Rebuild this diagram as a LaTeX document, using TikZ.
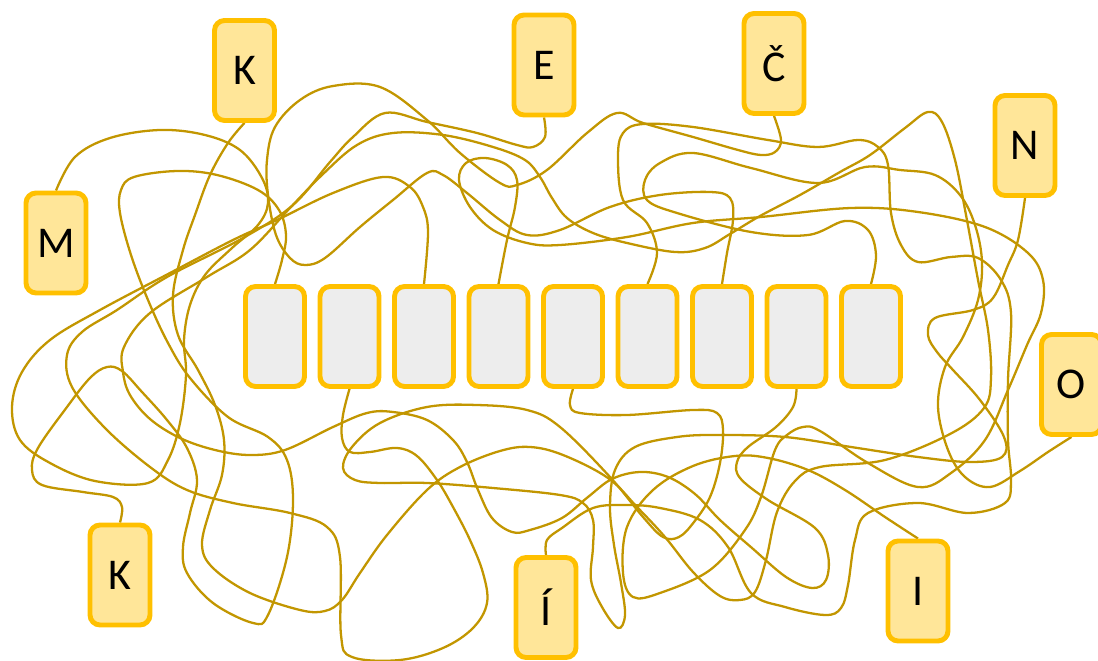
\documentclass[tikz,border=0pt]{standalone}
\usepackage{fontspec}
\setmainfont{Carlito}
\pgfdeclarelayer{background}
\pgfsetlayers{background,main}
\definecolor{boxline}{HTML}{FFC000}
\definecolor{boxfill}{HTML}{FFE699}
\definecolor{slotfill}{HTML}{EDEDED}
\definecolor{wirecol}{HTML}{C29600}

\begin{document}
\begin{tikzpicture}[x=0.02cm, y=-0.02cm,
  letter/.style={draw=boxline, fill=boxfill, line width=2.8pt, rounded corners=0.2cm,
    minimum width=1.2cm, minimum height=2cm, inner sep=0pt, font=\fontsize{25}{28}\selectfont},
  slot/.style={draw=boxline, fill=slotfill, line width=2.8pt, rounded corners=0.2cm,
    minimum width=1.18cm, minimum height=2cm, inner sep=0pt},
  wire/.style={draw=wirecol, line width=1.3pt}]
\useasboundingbox (0,0) rectangle (1098,661);
\foreach \i in {1,...,9} \node[slot] (b\i) at ({275+74.5*(\i-1)},336.5) {};
\node[letter] (Kt) at (244.5,70.5) {K};
\node[letter] (E) at (544,65) {E};
\node[letter] (C) at (774,63.5) {Č};
\node[letter] (N) at (1025,145.5) {N};
\node[letter] (M) at (56,243) {M};
\node[letter] (O) at (1071.5,384.5) {O};
\node[letter] (Kb) at (120,575) {K};
\node[letter] (Ia) at (546,607.5) {Í};
\node[letter] (I) at (918,591) {I};
\begin{pgfonlayer}{background}
% K (top)
\draw[wire] plot[smooth, tension=0.6] coordinates {(Kt.south) (228,143) (210,175) (195,215) (183,250) (173,295) (178,335) (198,370) (215,405) (224,440) (222,475) (210,510) (202,545) (213,568) (250,593) (300,610) (325,611) (342,600) (360,573) (387,535) (427,490) (460,467) (500,451) (530,447) (563,455) (608,478) (637,507) (665,537) (693,572) (720,596) (740,600) (755,592) (766,560) (777,512) (795,481) (820,467) (885,460) (950,434) (984,408) (991,378) (988,330) (978,280) (966,215) (955,160) (942,122) (928,112) (905,128) (870,155) (840,172) (800,195) (760,216) (730,234) (705,248) (675,252) (627,243) (593,233) (567,218) (552,198) (540,177) (525,160) (493,147) (443,135) (393,133) (357,145) (322,175) (290,208) (250,250) (207,277) (150,313) (124,347) (123,372) (130,395) (150,419) (180,438) (215,450) (250,455) (285,450) (333,427) (367,413) (393,412) (427,420) (453,440) (467,462) (478,490) (492,518) (512,532) (530,530) (562,518) (588,497) (612,479) (640,472) (668,477) (695,494) (720,520) (752,548) (786,577) (812,588) (826,580) (828,555) (815,528) (768,500) (740,478) (737,462) (748,447) (776,427) (793,407) (b8.south)};
% E
\draw[wire] plot[smooth, tension=0.6] coordinates {(E.south) (545,137) (533,147) (517,145) (477,133) (427,122) (385,113) (353,137) (330,162) (293,205) (243,238) (167,277) (117,310) (82,332) (67,355) (72,387) (105,428) (150,467) (187,490) (233,503) (290,513) (327,527) (340,557) (341,635) (352,657) (400,660) (443,648) (473,628) (487,603) (483,573) (470,540) (453,507) (437,480) (417,456) (397,448) (370,452) (350,452) (342,438) (343,415) (b2.south)};
% C
\draw[wire] plot[smooth, tension=0.6] coordinates {(C.south) (781,140) (775,152) (761,155) (738,150) (693,137) (643,123) (617,113) (587,133) (547,170) (517,185) (500,183) (460,153) (427,120) (380,87) (333,86) (300,100) (275,127) (267,160) (268,195) (276,235) (290,258) (305,265) (325,258) (360,227) (393,200) (427,173) (443,175) (467,193) (500,220) (527,235) (560,230) (610,207) (660,195) (710,192) (730,198) (733,220) (727,253) (b7.north)};
% M
\draw[wire] plot[smooth, tension=0.6] coordinates {(M.north) (75,157) (110,138) (160,130) (205,135) (240,150) (262,178) (268,203) (258,225) (232,248) (205,275) (190,305) (184,340) (186,375) (180,423) (168,460) (148,483) (95,481) (50,463) (20,440) (12,407) (22,372) (50,340) (100,310) (170,273) (233,240) (277,220) (333,193) (383,177) (410,187) (423,207) (428,232) (b3.north)};
% K (bottom)
\draw[wire] plot[smooth, tension=0.6] coordinates {(Kb.north) (122,507) (113,497) (83,492) (42,485) (32,470) (38,448) (67,407) (90,378) (107,367) (122,371) (142,392) (167,420) (187,448) (197,480) (190,513) (183,547) (187,573) (213,603) (253,623) (268,615) (287,557) (293,500) (287,460) (268,437) (228,417) (190,378) (168,343) (148,300) (131,255) (120,213) (121,190) (134,177) (177,171) (217,175) (258,190) (279,210) (286,235) (282,260) (b1.north)};
% I (acute)
\draw[wire] plot[smooth, tension=0.6] coordinates {(Ia.north) (547,540) (562,528) (593,508) (627,505) (660,508) (700,520) (728,547) (751,593) (785,607) (825,615) (841,608) (848,585) (855,540) (868,513) (918,503) (968,513) (1005,503) (1011,480) (1008,440) (1008,380) (1011,313) (1001,280) (978,258) (951,257) (918,262) (901,245) (891,213) (888,165) (878,147) (858,140) (818,147) (768,140) (693,127) (643,124) (623,133) (618,157) (623,200) (647,223) (657,253) (b6.north)};
% I
\draw[wire] plot[smooth, tension=0.6] coordinates {(I.north) (885,517) (845,490) (808,470) (768,458) (735,456) (693,466) (653,490) (627,527) (623,573) (633,597) (660,593) (710,570) (745,530) (761,497) (775,450) (787,435) (803,427) (820,431) (868,463) (918,487) (951,473) (985,440) (1008,390) (1027,345) (1041,313) (1043,280) (1028,253) (985,227) (918,212) (851,208) (761,217) (693,223) (627,237) (560,245) (527,243) (493,230) (470,207) (459,180) (466,163) (485,158) (507,165) (517,180) (515,207) (507,240) (b4.north)};
% N
\draw[wire] plot[smooth, tension=0.6] coordinates {(N.south) (1018,240) (1008,265) (993,298) (973,310) (935,318) (928,335) (937,352) (953,370) (980,400) (1004,437) (1002,457) (970,462) (918,457) (851,447) (785,437) (718,435) (677,437) (635,447) (615,470) (610,507) (614,545) (621,583) (625,615) (618,628) (602,607) (591,580) (593,547) (593,520) (583,503) (560,495) (493,488) (427,483) (380,483) (355,480) (343,468) (352,447) (380,423) (427,407) (477,405) (527,410) (560,427) (610,477) (643,517) (663,537) (679,537) (694,522) (710,497) (720,463) (723,430) (717,413) (693,410) (627,415) (580,413) (570,405) (b5.south)};
% O
\draw[wire] plot[smooth, tension=0.6] coordinates {(O.south) (1048,452) (1020,471) (990,487) (965,477) (948,450) (938,407) (945,367) (963,337) (978,300) (982,262) (975,225) (960,195) (935,175) (900,170) (865,167) (818,183) (751,168) (693,153) (660,163) (645,180) (647,200) (677,213) (751,232) (808,235) (845,221) (868,230) (876,255) (b9.north)};
\end{pgfonlayer}
\end{tikzpicture}
\end{document}
